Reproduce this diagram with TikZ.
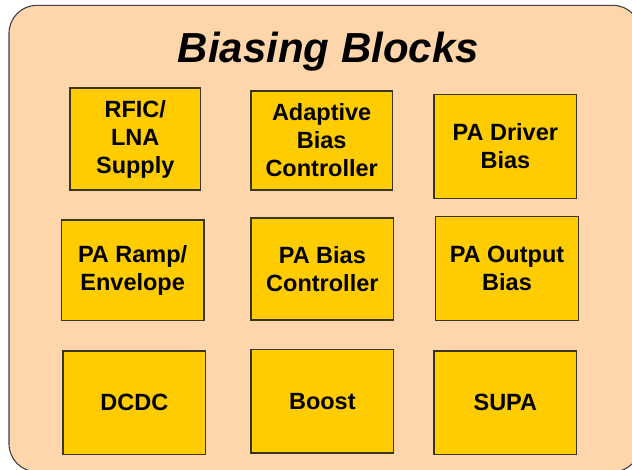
\documentclass[tikz,border=0pt]{standalone}
\usepackage{fontspec}
\setmainfont{Liberation Sans}
\definecolor{panelfill}{HTML}{FFD6AC}
\definecolor{blockfill}{HTML}{FFCC00}
\definecolor{blockline}{HTML}{3A3520}
\begin{document}
\begin{tikzpicture}[x=1pt,y=-1pt,
  blk/.style={draw=blockline,line width=1.1pt,fill=blockfill,inner sep=0pt,
    align=center,font=\bfseries\fontsize{23.5}{28}\selectfont},
  ttl/.style={anchor=base,inner sep=0pt,font=\bfseries\itshape\fontsize{42}{48}\selectfont}]
\useasboundingbox (0,0) rectangle (632,469);
\clip (0,0) rectangle (632,469);
% outer panel
\draw[draw=black!75,line width=1.1pt,fill=panelfill,rounded corners=28pt]
  (9,5.3) rectangle (640.7,471.8);
\node[ttl] (title) at (328.5,62) {Biasing Blocks};
% first row
\node[blk,minimum width=130.5pt,minimum height=102pt] (rfic) at (135.25,139) {RFIC/\\LNA\\Supply};
\node[blk,minimum width=141.3pt,minimum height=99pt] (abc) at (321.65,140.5) {Adaptive\\Bias\\Controller};
\node[blk,minimum width=142.7pt,minimum height=104pt] (pad) at (505.35,146.3) {PA Driver\\Bias};
% second row
\node[blk,minimum width=142.7pt,minimum height=100.3pt] (ramp) at (132.65,270.15) {PA Ramp/\\Envelope};
\node[blk,minimum width=142.7pt,minimum height=102pt] (pabc) at (322.35,269) {PA Bias\\Controller};
\node[blk,minimum width=142.6pt,minimum height=103.6pt] (pao) at (507,268.5) {PA Output\\Bias};
% third row
\node[blk,minimum width=142.7pt,minimum height=103.7pt] (dcdc) at (134.35,402.85) {DCDC};
\node[blk,minimum width=142.7pt,minimum height=103.7pt] (boost) at (322.35,401.15) {Boost};
\node[blk,minimum width=142.7pt,minimum height=103.7pt] (supa) at (505.35,402.85) {SUPA};
\end{tikzpicture}
\end{document}
